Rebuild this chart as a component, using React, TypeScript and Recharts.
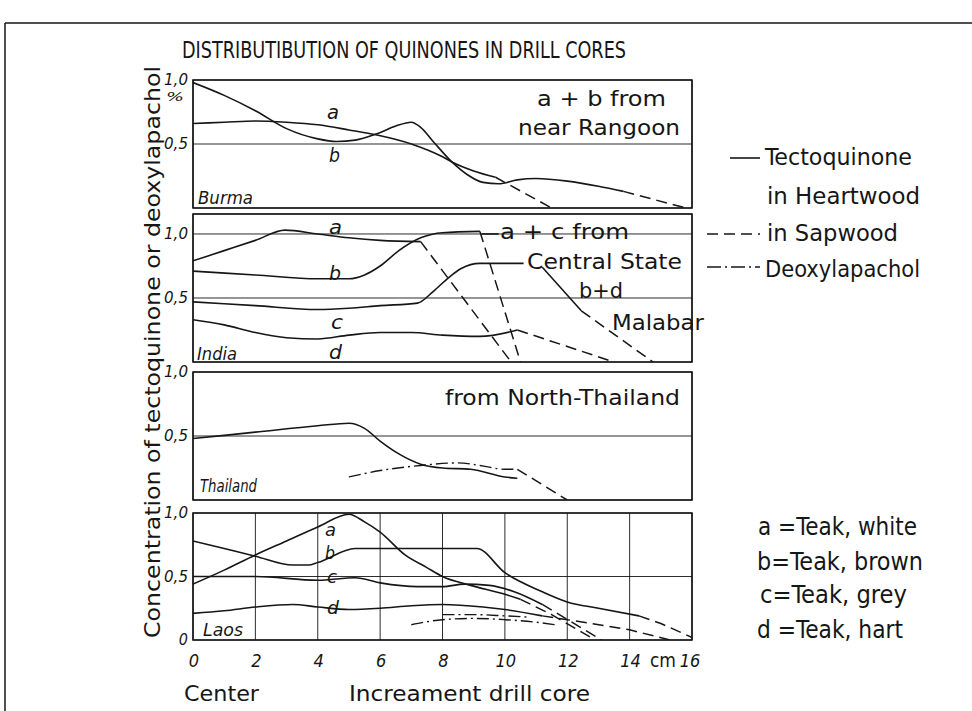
import React from 'react';
import { CartesianGrid, Line, LineChart, ReferenceArea, XAxis, YAxis } from 'recharts';

type Pt = [number, number];

const FONT = '"DejaVu Sans Condensed", "DejaVu Sans", sans-serif';
const INK = '#161616';

const xTicks = [0, 2, 4, 6, 8, 10, 12, 14, 16];
const yTicks = [0, 0.5, 1];
const yLabels: Record<string, string> = { '0': '0', '0.5': '0,5', '1': '1,0' };

// Burma (cm from center, % concentration)
const burmaA: Pt[] = [[0, 0.66], [1, 0.67], [2, 0.68], [3, 0.67], [4, 0.65], [5, 0.61], [5.9, 0.57], [7, 0.5], [8, 0.4], [8.3, 0.36], [9, 0.29], [9.7, 0.24]];
const burmaASap: Pt[] = [[9.7, 0.24], [11.5, 0]];
const burmaB: Pt[] = [[0, 0.98], [1, 0.88], [2, 0.76], [3, 0.62], [4, 0.54], [4.6, 0.52], [5.2, 0.53], [5.9, 0.58], [6.5, 0.64], [7, 0.67], [7.3, 0.63], [7.7, 0.52], [8.3, 0.36], [8.8, 0.26], [9.3, 0.2], [9.8, 0.19], [10.4, 0.22], [11, 0.23], [12, 0.21], [13, 0.17], [13.8, 0.13]];
const burmaBSap: Pt[] = [[13.8, 0.13], [15.8, 0]];

// India
const indiaA: Pt[] = [[0, 0.79], [1, 0.87], [2, 0.95], [2.95, 1.03], [4, 1.0], [5, 0.97], [6, 0.95], [7.3, 0.94]];
const indiaASap: Pt[] = [[7.3, 0.94], [10.2, 0]];
const indiaB: Pt[] = [[0, 0.71], [2, 0.68], [4, 0.65], [5, 0.65], [5.5, 0.68], [6, 0.75], [6.6, 0.87], [7.3, 0.97], [8, 1.01], [9.2, 1.02]];
const indiaBSap: Pt[] = [[9.2, 1.02], [10.5, 0]];
const indiaC: Pt[] = [[0, 0.47], [2, 0.44], [4, 0.41], [5, 0.42], [6, 0.44], [7.2, 0.46], [7.7, 0.55], [8.2, 0.66], [8.6, 0.73], [9.2, 0.77], [10.6, 0.77]];
const indiaCTail: Pt[] = [[11.2, 0.74], [12.45, 0.4]];
const indiaCSap: Pt[] = [[12.45, 0.4], [14.75, 0]];
const indiaD: Pt[] = [[0, 0.33], [1, 0.29], [2, 0.23], [3, 0.19], [4, 0.18], [5, 0.21], [6, 0.23], [7, 0.23], [8, 0.21], [9.2, 0.2], [10.4, 0.25]];
const indiaDSap: Pt[] = [[10.4, 0.25], [13.5, 0]];
const indiaLeader: Pt[] = [[9.25, 1.0], [9.8, 1.0]];

// Thailand
const thaiHeart: Pt[] = [[0, 0.48], [2, 0.53], [4, 0.58], [5, 0.6], [5.5, 0.56], [6, 0.46], [6.6, 0.36], [7.3, 0.28], [8, 0.25], [8.9, 0.24], [10, 0.18], [10.4, 0.17]];
const thaiDeoxy: Pt[] = [[5, 0.18], [6, 0.23], [7.3, 0.27], [8.5, 0.29], [9.2, 0.27], [10, 0.24], [10.4, 0.24]];
const thaiDeoxySap: Pt[] = [[10.4, 0.24], [12, 0]];

// Laos
const laosA: Pt[] = [[0, 0.44], [1, 0.55], [2, 0.67], [3, 0.78], [4, 0.89], [5, 0.99], [5.5, 0.93], [6, 0.85], [6.8, 0.67], [7.5, 0.57], [8, 0.5], [8.9, 0.43], [10, 0.36], [10.5, 0.32]];
const laosASap: Pt[] = [[10.5, 0.32], [11.5, 0.2], [12.9, 0]];
const laosB: Pt[] = [[0, 0.78], [1, 0.72], [2, 0.66], [3.2, 0.59], [3.7, 0.59], [4, 0.61], [5.2, 0.72], [6, 0.72], [8, 0.72], [9.1, 0.72], [10, 0.53], [11.2, 0.38], [12, 0.3], [13, 0.25], [14.3, 0.19]];
const laosBSap: Pt[] = [[14.3, 0.19], [15, 0.13], [16, 0.02]];
const laosC: Pt[] = [[0, 0.5], [2, 0.5], [4, 0.47], [5.2, 0.49], [6, 0.45], [7.2, 0.42], [8, 0.42], [8.7, 0.44], [9.5, 0.43], [10.3, 0.38], [11.2, 0.28]];
const laosCSap: Pt[] = [[11.2, 0.28], [13.1, 0]];
const laosD: Pt[] = [[0, 0.21], [1, 0.23], [2, 0.26], [3.2, 0.28], [4, 0.26], [5, 0.24], [6, 0.25], [7, 0.27], [8, 0.28], [9.3, 0.26], [10, 0.24], [11.2, 0.19]];
const laosDSap: Pt[] = [[11.2, 0.19], [12, 0.16], [14, 0.08], [15.3, 0]];
const laosDeoxy1: Pt[] = [[8, 0.2], [9, 0.2], [10, 0.19], [10.8, 0.18]];
const laosDeoxy2: Pt[] = [[7, 0.12], [8, 0.16], [9, 0.17], [10, 0.16], [11, 0.14], [11.6, 0.12]];

type Kind = 'heart' | 'sap' | 'deoxy';
type Series = { pts: Pt[]; kind: Kind; curve?: 'monotone' | 'linear' };
type Panel = { name: string; top: number; bottom: number; max: number; series: Series[] };

const STYLE: Record<Kind, { dash?: string; width: number }> = {
  heart: { width: 1.6 },
  sap: { dash: '11 6', width: 1.5 },
  deoxy: { dash: '12 4 2 4', width: 1.4 },
};

const panels: Panel[] = [
  {
    name: 'Burma', top: 80, bottom: 208, max: 1,
    series: [
      { pts: burmaA, kind: 'heart' }, { pts: burmaASap, kind: 'sap', curve: 'linear' },
      { pts: burmaB, kind: 'heart' }, { pts: burmaBSap, kind: 'sap', curve: 'linear' },
    ],
  },
  {
    name: 'India', top: 214, bottom: 362, max: 1.156,
    series: [
      { pts: indiaA, kind: 'heart' }, { pts: indiaASap, kind: 'sap', curve: 'linear' },
      { pts: indiaB, kind: 'heart' }, { pts: indiaBSap, kind: 'sap', curve: 'linear' },
      { pts: indiaC, kind: 'heart' }, { pts: indiaCTail, kind: 'heart', curve: 'linear' },
      { pts: indiaCSap, kind: 'sap', curve: 'linear' },
      { pts: indiaD, kind: 'heart' }, { pts: indiaDSap, kind: 'sap', curve: 'linear' },
      { pts: indiaLeader, kind: 'heart', curve: 'linear' },
    ],
  },
  {
    name: 'Thailand', top: 372, bottom: 500, max: 1,
    series: [
      { pts: thaiHeart, kind: 'heart' }, { pts: thaiDeoxy, kind: 'deoxy' },
      { pts: thaiDeoxySap, kind: 'sap', curve: 'linear' },
    ],
  },
  {
    name: 'Laos', top: 513, bottom: 640, max: 1,
    series: [
      { pts: laosA, kind: 'heart' }, { pts: laosASap, kind: 'sap', curve: 'linear' },
      { pts: laosB, kind: 'heart' }, { pts: laosBSap, kind: 'sap', curve: 'linear' },
      { pts: laosC, kind: 'heart' }, { pts: laosCSap, kind: 'sap', curve: 'linear' },
      { pts: laosD, kind: 'heart' }, { pts: laosDSap, kind: 'sap', curve: 'linear' },
      { pts: laosDeoxy1, kind: 'deoxy' }, { pts: laosDeoxy2, kind: 'deoxy' },
    ],
  },
];

const PLOT_LEFT = 193;
const PLOT_RIGHT = 692;
const M_TOP = 14;
const M_RIGHT = 20;

const YTick = (props: any) => {
  const { x, y, payload } = props;
  const label = yLabels[String(payload.value)];
  return (
    <text
      x={x}
      y={y + 5}
      textAnchor="end"
      fontStyle="italic"
      fontSize={16}
      fontFamily={FONT}
      fill={INK}
      textLength={label.length > 1 ? 24 : undefined}
      lengthAdjust="spacingAndGlyphs"
    >
      {label}
    </text>
  );
};

const XTick = (props: any) => {
  const { x, y, payload } = props;
  if (payload.value === 16) {
    return (
      <g>
        <text x={x - 16} y={y + 25} textAnchor="end" fontSize={19} fontFamily={FONT} fill={INK}>cm</text>
        <text x={x - 2} y={y + 25} textAnchor="middle" fontStyle="italic" fontSize={18} fontFamily={FONT} fill={INK}>16</text>
      </g>
    );
  }
  return (
    <text x={x + 1} y={y + 25} textAnchor="middle" fontStyle="italic" fontSize={18} fontFamily={FONT} fill={INK}>
      {payload.value}
    </text>
  );
};

function PanelChart({ p, last }: { p: Panel; last: boolean }) {
  const plotH = p.bottom - p.top;
  const xH = last ? 30 : 0;
  const mBottom = 4;
  return (
    <div style={{ position: 'absolute', left: 0, top: p.top - M_TOP }}>
      <LineChart
        width={PLOT_RIGHT + M_RIGHT}
        height={M_TOP + plotH + xH + mBottom}
        margin={{ top: M_TOP, right: M_RIGHT, bottom: mBottom, left: 0 }}
      >
        <CartesianGrid stroke={INK} strokeWidth={1} strokeOpacity={0.9} />
        <XAxis
          type="number"
          dataKey="x"
          domain={[0, 16]}
          ticks={xTicks}
          allowDataOverflow
          height={xH}
          axisLine={false}
          tickLine={false}
          tickSize={0}
          tick={last ? <XTick /> : false}
        />
        <YAxis
          type="number"
          domain={[0, p.max]}
          ticks={yTicks}
          allowDataOverflow
          width={PLOT_LEFT}
          axisLine={false}
          tickLine={false}
          tickSize={0}
          tickMargin={5}
          tick={<YTick />}
        />
        <ReferenceArea x1={0} x2={16} y1={0} y2={p.max} fill="none" fillOpacity={0} stroke={INK} strokeWidth={1.6} ifOverflow="visible" />
        {p.series.map((s, i) => (
          <Line
            key={i}
            data={s.pts.map(([x, v]) => ({ x, v }))}
            dataKey="v"
            type={s.curve ?? 'monotone'}
            stroke={INK}
            strokeWidth={STYLE[s.kind].width}
            strokeDasharray={STYLE[s.kind].dash}
            dot={false}
            activeDot={false}
            isAnimationActive={false}
          />
        ))}
      </LineChart>
    </div>
  );
}

const T = ({ x, y, w, size = 22, italic = false, children }: any) => (
  <text
    x={x}
    y={y}
    fontSize={size}
    fontFamily={FONT}
    fontStyle={italic ? 'italic' : 'normal'}
    fill={INK}
    textLength={w}
    lengthAdjust="spacingAndGlyphs"
  >
    {children}
  </text>
);

export default function App() {
  return (
    <div style={{ position: 'absolute', left: 0, top: 0, width: 972, height: 711, background: '#fff', overflow: 'hidden' }}>
      {panels.map((p, i) => (
        <PanelChart key={p.name} p={p} last={i === panels.length - 1} />
      ))}
      <svg width={972} height={711} style={{ position: 'absolute', left: 0, top: 0, pointerEvents: 'none' }}>
        <line x1={5} y1={23} x2={972} y2={23} stroke={INK} strokeWidth={1.5} />
        <line x1={5} y1={23} x2={5} y2={711} stroke={INK} strokeWidth={1.5} />

        <T x={182} y={58} w={444} size={23}>DISTRIBUTIBUTION OF QUINONES IN DRILL CORES</T>
        <text
          transform="translate(160, 352) rotate(-90)"
          textAnchor="middle"
          fontSize={21}
          fontFamily={FONT}
          fill={INK}
          textLength={572}
          lengthAdjust="spacingAndGlyphs"
        >
          Concentration of tectoquinone or deoxylapachol
        </text>
        <T x={166} y={101} w={18} size={13} italic>%</T>

        {/* series legend */}
        <line x1={730} y1={158} x2={760} y2={158} stroke={INK} strokeWidth={1.6} />
        <T x={765} y={165} w={147} size={23}>Tectoquinone</T>
        <T x={767} y={204} w={153} size={23}>in Heartwood</T>
        <line x1={707} y1={234} x2={760} y2={234} stroke={INK} strokeWidth={1.6} strokeDasharray="11 6" />
        <T x={767} y={241} w={131} size={23}>in Sapwood</T>
        <line x1={707} y1={267} x2={760} y2={267} stroke={INK} strokeWidth={1.6} strokeDasharray="14 4 2 4" />
        <T x={765} y={277} w={155} size={23}>Deoxylapachol</T>

        {/* wood legend */}
        <T x={758} y={535} w={159} size={24}>a =Teak, white</T>
        <T x={757} y={570} w={166} size={24}>b=Teak, brown</T>
        <T x={760} y={603} w={147} size={24}>c=Teak, grey</T>
        <T x={757} y={638} w={146} size={24}>d =Teak, hart</T>

        {/* panel notes */}
        <T x={537} y={106} w={129}>a + b from</T>
        <T x={518} y={135} w={162}>near Rangoon</T>
        <T x={500} y={239} w={129}>a + c from</T>
        <T x={527} y={269} w={155}>Central State</T>
        <T x={579} y={298} w={44}>b+d</T>
        <T x={612} y={330} w={92}>Malabar</T>
        <T x={445} y={405} w={235}>from North-Thailand</T>

        {/* panel names */}
        <T x={198} y={204} w={55} size={17} italic>Burma</T>
        <T x={197} y={360} w={40} size={17} italic>India</T>
        <T x={200} y={492} w={57} size={17} italic>Thailand</T>
        <T x={203} y={636} w={40} size={17} italic>Laos</T>

        {/* curve letters */}
        <T x={327} y={119} w={12} size={19} italic>a</T>
        <T x={329} y={162} w={11} size={19} italic>b</T>
        <T x={329} y={234} w={13} size={19} italic>a</T>
        <T x={329} y={280} w={12} size={19} italic>b</T>
        <T x={331} y={329} w={12} size={19} italic>c</T>
        <T x={329} y={359} w={13} size={19} italic>d</T>
        <T x={325} y={536} w={11} size={17} italic>a</T>
        <T x={325} y={559} w={10} size={17} italic>b</T>
        <T x={327} y={583} w={10} size={17} italic>c</T>
        <T x={327} y={614} w={12} size={18} italic>d</T>

        <T x={184} y={701} w={75}>Center</T>
        <T x={349} y={701} w={241}>Increament drill core</T>
      </svg>
    </div>
  );
}
